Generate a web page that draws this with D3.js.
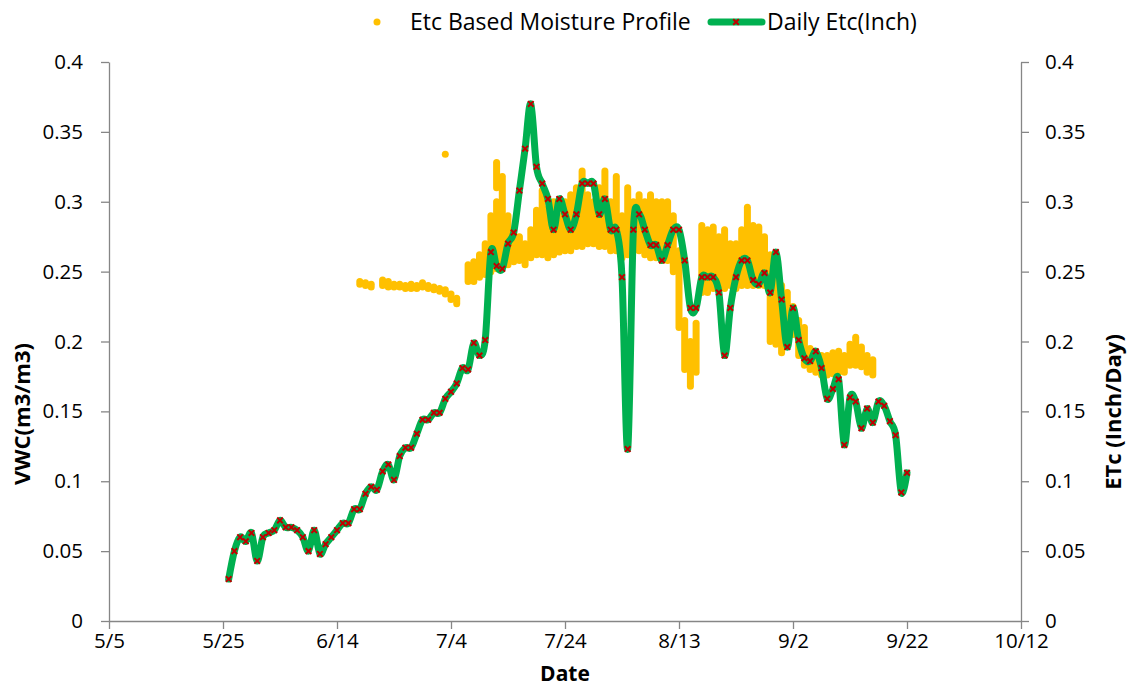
<!DOCTYPE html>
<html><head><meta charset="utf-8">
<script src="https://cdn.jsdelivr.net/npm/d3@7"></script>
<style>
body{margin:0;background:#fff}
svg{display:block}
text{font-family:"Open Sans","Liberation Sans",sans-serif}
</style>
</head><body>
<svg id="chart" width="1129" height="688"></svg>
<script>
// ---------------- data ----------------
const yTicks = [0, 0.05, 0.1, 0.15, 0.2, 0.25, 0.3, 0.35, 0.4];
const xTickLabels = ["5/5","5/25","6/14","7/4","7/24","8/13","9/2","9/22","10/12"];

const etcStart = "5/26"; // daily series, one value per consecutive day
const etcValues = [
 0.030,0.050,0.060,0.057,0.063,0.043,                 // 5/26-5/31
 0.060,0.063,0.065,0.072,0.067,0.067,0.065,0.060,0.050,0.065, // 6/1-6/10
 0.048,0.055,0.060,0.065,0.070,0.070,0.080,0.080,0.091,0.096, // 6/11-6/20
 0.094,0.107,0.112,0.101,0.118,0.124,0.124,0.134,0.144,0.144, // 6/21-6/30
 0.149,0.149,0.159,0.164,0.170,0.181,0.180,0.199,0.190,0.201, // 7/1-7/10
 0.264,0.254,0.252,0.270,0.278,0.308,0.338,0.370,0.325,0.313, // 7/11-7/20
 0.302,0.280,0.302,0.291,0.280,0.291,0.313,0.313,0.313,0.291,0.302, // 7/21-7/31
 0.280,0.280,0.246,0.123,0.280,0.291,0.280,0.269,0.269,0.258, // 8/1-8/10
 0.269,0.280,0.280,0.258,0.224,0.224,0.246,0.246,0.246,0.235, // 8/11-8/20
 0.190,0.224,0.246,0.258,0.258,0.244,0.241,0.249,0.235,0.264,0.230, // 8/21-8/31
 0.196,0.224,0.201,0.188,0.186,0.193,0.181,0.159,0.166,0.173, // 9/1-9/10
 0.126,0.160,0.157,0.138,0.152,0.142,0.157,0.154,0.143,0.133, // 9/11-9/20
 0.092,0.106                                          // 9/21-9/22
];

// moisture profile: readings per day, given as vertical runs [low, high]
const moistureDates = [
 "6/18","6/19","6/20","6/22","6/23","6/24","6/25","6/26","6/27","6/28","6/29","6/30",
 "7/1","7/2","7/3","7/4","7/5","7/7","7/8","7/9","7/10","7/11","7/12","7/13","7/14","7/15",
 "7/16","7/17","7/18","7/19","7/20","7/21","7/22","7/23","7/24","7/25","7/26","7/27","7/28",
 "7/29","7/30","7/31","8/1","8/2","8/3","8/4","8/5","8/6","8/7","8/8","8/9","8/10","8/11",
 "8/12","8/13","8/14","8/15","8/16","8/17","8/18","8/19","8/20","8/21","8/22","8/23","8/24",
 "8/25","8/26","8/27","8/28","8/29","8/30","8/31","9/1","9/2","9/3","9/4","9/5","9/6","9/7",
 "9/8","9/9","9/10","9/11","9/12","9/13","9/14","9/15","9/16"
];
const moistureRanges = [
 [[0.241,0.243]],[[0.240,0.242]],[[0.239,0.241]],[[0.240,0.244]],[[0.239,0.243]],[[0.239,0.241]],
 [[0.239,0.241]],[[0.238,0.240]],[[0.238,0.241]],[[0.238,0.240]],[[0.239,0.242]],[[0.238,0.240]],
 [[0.237,0.239]],[[0.236,0.238]],[[0.234,0.237],[0.334,0.334]],[[0.230,0.234]],[[0.227,0.231]],
 [[0.243,0.255]],[[0.243,0.257]],[[0.246,0.262]],[[0.248,0.270]],[[0.250,0.290]],
 [[0.252,0.300],[0.310,0.328]],[[0.255,0.318]],[[0.255,0.290]],[[0.257,0.280]],
 [[0.258,0.275]],[[0.255,0.270]],[[0.260,0.280]],[[0.262,0.294]],[[0.262,0.308]],[[0.260,0.295]],
 [[0.262,0.300]],[[0.264,0.290]],[[0.265,0.300]],[[0.265,0.305]],[[0.268,0.310]],[[0.268,0.322]],
 [[0.270,0.305]],[[0.270,0.300]],[[0.268,0.310]],[[0.268,0.322]],[[0.265,0.300]],[[0.265,0.318]],
 [[0.260,0.290]],[[0.262,0.310]],[[0.265,0.300]],[[0.265,0.305]],[[0.262,0.300]],[[0.260,0.305]],
 [[0.260,0.300]],[[0.258,0.300]],[[0.258,0.300]],[[0.250,0.290]],[[0.210,0.265]],[[0.180,0.215]],
 [[0.168,0.200]],[[0.178,0.213]],[[0.235,0.283]],[[0.235,0.280]],[[0.238,0.282]],[[0.240,0.275]],
 [[0.238,0.280]],[[0.240,0.270]],[[0.238,0.270]],[[0.240,0.280]],[[0.240,0.296]],[[0.240,0.283]],
 [[0.240,0.282]],[[0.240,0.275]],[[0.200,0.262]],[[0.198,0.250]],[[0.192,0.240]],[[0.200,0.235]],
 [[0.205,0.225]],[[0.190,0.215]],[[0.183,0.210]],[[0.180,0.195]],[[0.178,0.190]],[[0.176,0.190]],
 [[0.176,0.190]],[[0.177,0.192]],[[0.178,0.193]],[[0.178,0.190]],[[0.183,0.198]],[[0.183,0.203]],
 [[0.182,0.196]],[[0.178,0.190]],[[0.176,0.187]]
];

// ---------------- chart ----------------
const parse = s => d3.timeParse("%Y/%m/%d")("2013/" + s);
const svg = d3.select("#chart");
const L = 109, R = 1021, T = 62, B = 621;
const axisColor = "#868686";

const x = d3.scaleTime()
  .domain([parse(xTickLabels[0]), parse(xTickLabels[xTickLabels.length - 1])])
  .range([L, R]);
const y = d3.scaleLinear().domain([0, 0.4]).range([B, T]);
const y2 = d3.scaleLinear().domain([0, 0.4]).range([B, T]);

const fmt = d => String(+d.toFixed(2));

function styleAxis(g) {
  g.selectAll("path.domain").attr("stroke", axisColor).attr("stroke-width", 1.3);
  g.selectAll(".tick line").attr("stroke", axisColor).attr("stroke-width", 1.3);
  g.selectAll(".tick text").attr("fill", "#000").style("font-size", "20.5px");
}

svg.append("g").attr("transform", `translate(${L},0)`)
  .call(d3.axisLeft(y).tickValues(yTicks).tickFormat(fmt).tickSize(8).tickSizeOuter(0).tickPadding(18))
  .call(styleAxis);

svg.append("g").attr("transform", `translate(${R},0)`)
  .call(d3.axisRight(y2).tickValues(yTicks).tickFormat(fmt).tickSize(8).tickSizeOuter(0).tickPadding(16))
  .call(styleAxis);

svg.append("g").attr("transform", `translate(0,${B})`)
  .call(d3.axisBottom(x).tickValues(xTickLabels.map(parse)).tickFormat((d, i) => xTickLabels[i])
        .tickSize(8).tickSizeOuter(0).tickPadding(4))
  .call(styleAxis);

// moisture profile dots (runs of overlapping readings)
const runs = [];
moistureDates.forEach((d, i) => {
  moistureRanges[i].forEach(r => runs.push({date: parse(d), lo: r[0], hi: r[1]}));
});
svg.append("g").selectAll("line").data(runs).join("line")
  .attr("x1", d => x(d.date)).attr("x2", d => x(d.date))
  .attr("y1", d => y(d.lo)).attr("y2", d => y(d.hi))
  .attr("stroke", "#FFC000").attr("stroke-width", 7).attr("stroke-linecap", "round");

// daily ETc smoothed line
const start = parse(etcStart);
const etc = etcValues.map((v, i) => ({date: d3.timeDay.offset(start, i), v}));
const line = d3.line().x(d => x(d.date)).y(d => y2(d.v)).curve(d3.curveCatmullRom.alpha(0));
svg.append("path").datum(etc).attr("d", line)
  .attr("fill", "none").attr("stroke", "#00B050").attr("stroke-width", 7)
  .attr("stroke-linejoin", "round").attr("stroke-linecap", "round");

const m = 2.8;
const markerPath = `M${-m},${-m}L${m},${m}M${-m},${m}L${m},${-m}`;
svg.append("g").selectAll("path").data(etc).join("path")
  .attr("transform", d => `translate(${x(d.date)},${y2(d.v)})`)
  .attr("d", markerPath).attr("stroke", "#C00000").attr("stroke-width", 2).attr("fill", "none");

// axis titles
svg.append("text").attr("transform", "translate(30,414) rotate(-90)")
  .attr("text-anchor", "middle").style("font-size", "22px").style("font-weight", "bold").text("VWC(m3/m3)");
svg.append("text").attr("transform", "translate(1121,412) rotate(-90)")
  .attr("text-anchor", "middle").style("font-size", "22px").style("font-weight", "bold").text("ETc (Inch/Day)");
svg.append("text").attr("x", (L + R) / 2).attr("y", 681)
  .attr("text-anchor", "middle").style("font-size", "21px").style("font-weight", "bold").text("Date");

// legend
const lg = svg.append("g");
lg.append("circle").attr("cx", 377).attr("cy", 22).attr("r", 3.5).attr("fill", "#FFC000");
lg.append("text").attr("x", 410).attr("y", 30).style("font-size", "23px").text("Etc Based Moisture Profile");
lg.append("line").attr("x1", 711).attr("x2", 762).attr("y1", 22).attr("y2", 22)
  .attr("stroke", "#00B050").attr("stroke-width", 7).attr("stroke-linecap", "round");
lg.append("path").attr("transform", "translate(736,22)").attr("d", markerPath)
  .attr("stroke", "#C00000").attr("stroke-width", 2).attr("fill", "none");
lg.append("text").attr("x", 767).attr("y", 30).style("font-size", "23px").text("Daily Etc(Inch)");
</script>
</body></html>
